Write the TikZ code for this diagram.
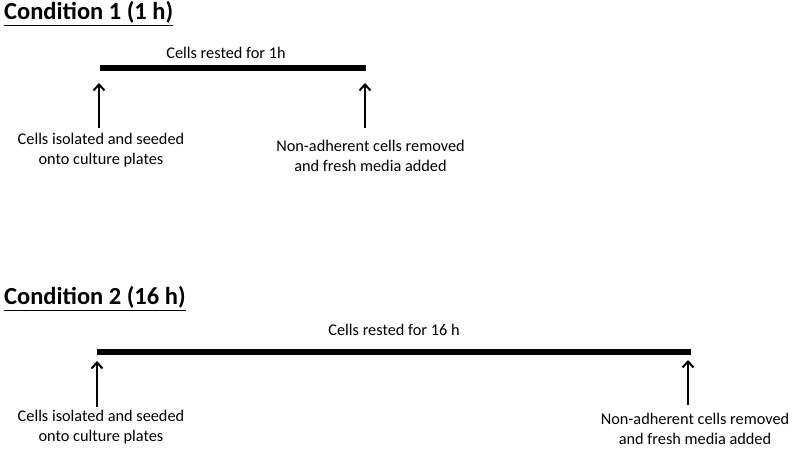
\documentclass[tikz,border=0pt]{standalone}
\usepackage{fontspec}
\setmainfont{Carlito}
\usetikzlibrary{arrows.meta}
\begin{document}
\begin{tikzpicture}[x=1pt,y=-1pt,
  title/.style={anchor=base west,inner sep=0pt,font=\fontsize{24.5}{28}\selectfont\bfseries},
  lbl/.style={inner sep=0pt,font=\fontsize{16.3}{20.5}\selectfont,align=center},
  bar/.style={line width=6pt},
  uparrow/.style={line width=1.8pt,-{Straight Barb[length=6pt,width=11pt,line width=2pt]}}]
\useasboundingbox (0,0) rectangle (793,449);
% Condition 1
\node[title] (t1) at (4,20) {\underline{Condition 1 (1 h)}};
\coordinate (b1s) at (100,68);
\coordinate (b1e) at (366,68);
\draw[bar] (b1s) -- (b1e);
\node[lbl] (r1) at (226,53) {Cells rested for 1h};
\coordinate (a1b) at (99,128); \coordinate (a1t) at (99,83);
\draw[uparrow] (a1b) -- (a1t);
\coordinate (a2b) at (365,128); \coordinate (a2t) at (365,83);
\draw[uparrow] (a2b) -- (a2t);
\node[lbl] (l1) at (101,150) {Cells isolated and seeded\\onto culture plates};
\node[lbl] (n1) at (370.5,156) {Non-adherent cells removed\\and fresh media added};
% Condition 2
\node[title] (t2) at (4,305) {\underline{Condition 2 (16 h)}};
\coordinate (b2s) at (97,352);
\coordinate (b2e) at (691,352);
\draw[bar] (b2s) -- (b2e);
\node[lbl] (r2) at (394,330) {Cells rested for 16 h};
\coordinate (a3b) at (97,407); \coordinate (a3t) at (97,361);
\draw[uparrow] (a3b) -- (a3t);
\coordinate (a4b) at (688,405); \coordinate (a4t) at (688,360);
\draw[uparrow] (a4b) -- (a4t);
\node[lbl] (l2) at (101,427) {Cells isolated and seeded\\onto culture plates};
\node[lbl] (n2) at (695,429) {Non-adherent cells removed\\and fresh media added};
\end{tikzpicture}
\end{document}
